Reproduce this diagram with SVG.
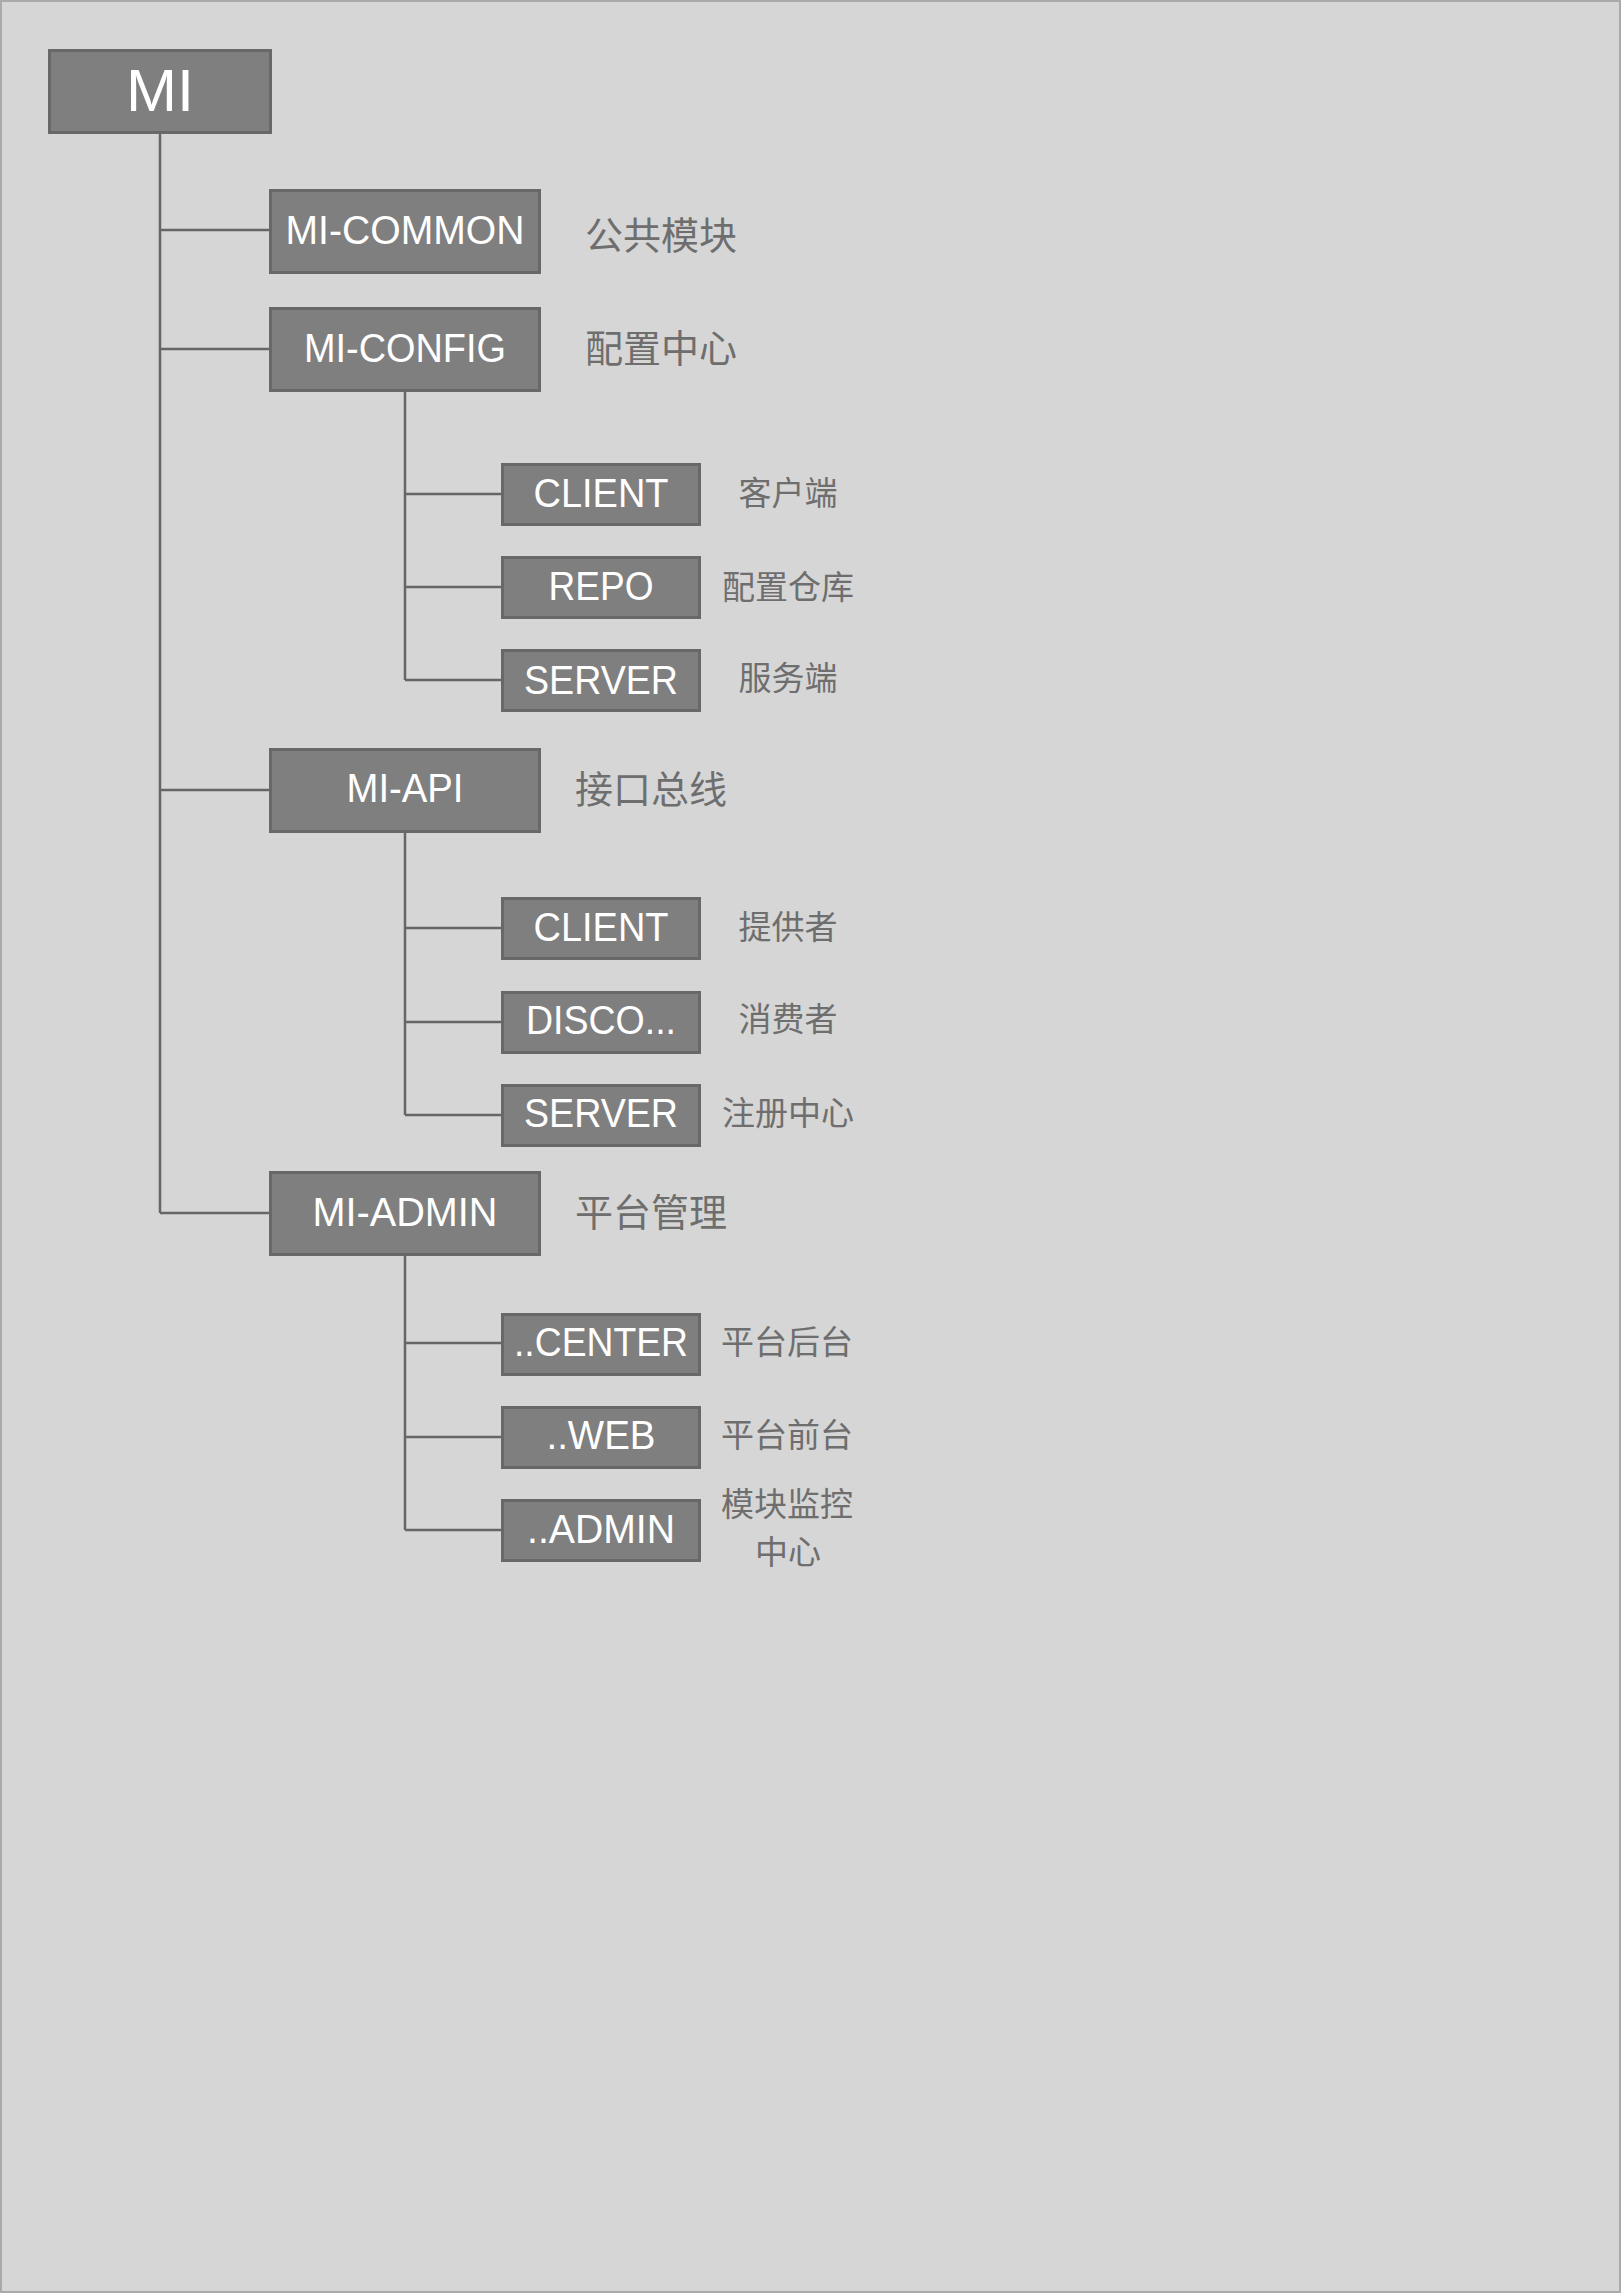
<svg xmlns="http://www.w3.org/2000/svg" width="1622" height="2294" viewBox="0 0 1622 2294">
<style>
.box{fill:#7f7f7f;stroke:#686868;stroke-width:3}
.t{font-family:"Liberation Sans",Arial,sans-serif;font-size:40px;fill:#ffffff;text-anchor:middle}
.l1{font-family:"Noto Sans CJK SC",sans-serif;font-size:38px;fill:#6e6e6e;text-anchor:middle}
.l2{font-family:"Noto Sans CJK SC",sans-serif;font-size:33px;fill:#6e6e6e;text-anchor:middle}
.c{fill:none;stroke:#666666;stroke-width:2.5}
</style>
<rect x="1" y="1" width="1619" height="2291" fill="#d6d6d6" stroke="#aaaaaa" stroke-width="2"/>
<g id="connectors">
<path class="c" d="M160 134V1213M160 230H269M160 349H269M160 790H269M160 1213H269"/>
<path class="c" d="M405 392V680M405 494H501M405 587H501M405 680H501"/>
<path class="c" d="M405 833V1115M405 928H501M405 1022H501M405 1115H501"/>
<path class="c" d="M405 1256V1530M405 1343H501M405 1437H501M405 1530H501"/>
</g>
<g id="n-mi"><rect class="box" x="49.5" y="50.5" width="221" height="82"/><text class="t" x="160" y="111" style="font-size:60px" textLength="68" lengthAdjust="spacingAndGlyphs">MI</text></g>
<g id="n-common"><rect class="box" x="270.5" y="190.5" width="269" height="82"/><text class="t" x="405" y="244" textLength="239" lengthAdjust="spacingAndGlyphs">MI-COMMON</text><text class="l1" x="661" y="249">公共模块</text></g>
<g id="n-config"><rect class="box" x="270.5" y="308.5" width="269" height="82"/><text class="t" x="405" y="362" textLength="202" lengthAdjust="spacingAndGlyphs">MI-CONFIG</text><text class="l1" x="661" y="362">配置中心</text></g>
<g id="n-config-client"><rect class="box" x="502.5" y="464.5" width="197" height="60"/><text class="t" x="601" y="507" textLength="135" lengthAdjust="spacingAndGlyphs">CLIENT</text><text class="l2" x="788" y="505">客户端</text></g>
<g id="n-config-repo"><rect class="box" x="502.5" y="557.5" width="197" height="60"/><text class="t" x="601" y="600" textLength="105" lengthAdjust="spacingAndGlyphs">REPO</text><text class="l2" x="788" y="599">配置仓库</text></g>
<g id="n-config-server"><rect class="box" x="502.5" y="650.5" width="197" height="60"/><text class="t" x="601" y="694" textLength="154" lengthAdjust="spacingAndGlyphs">SERVER</text><text class="l2" x="788" y="690">服务端</text></g>
<g id="n-api"><rect class="box" x="270.5" y="749.5" width="269" height="82"/><text class="t" x="405" y="802" textLength="117" lengthAdjust="spacingAndGlyphs">MI-API</text><text class="l1" x="651" y="803">接口总线</text></g>
<g id="n-api-client"><rect class="box" x="502.5" y="898.5" width="197" height="60"/><text class="t" x="601" y="941" textLength="135" lengthAdjust="spacingAndGlyphs">CLIENT</text><text class="l2" x="788" y="939">提供者</text></g>
<g id="n-api-disco"><rect class="box" x="502.5" y="992.5" width="197" height="60"/><text class="t" x="601" y="1034" textLength="150" lengthAdjust="spacingAndGlyphs">DISCO...</text><text class="l2" x="788" y="1031">消费者</text></g>
<g id="n-api-server"><rect class="box" x="502.5" y="1085.5" width="197" height="60"/><text class="t" x="601" y="1127" textLength="154" lengthAdjust="spacingAndGlyphs">SERVER</text><text class="l2" x="788" y="1125">注册中心</text></g>
<g id="n-admin"><rect class="box" x="270.5" y="1172.5" width="269" height="82"/><text class="t" x="405" y="1226" textLength="185" lengthAdjust="spacingAndGlyphs">MI-ADMIN</text><text class="l1" x="651" y="1226">平台管理</text></g>
<g id="n-admin-center"><rect class="box" x="502.5" y="1314.5" width="197" height="60"/><text class="t" x="601" y="1356" textLength="174" lengthAdjust="spacingAndGlyphs">..CENTER</text><text class="l2" x="787" y="1354">平台后台</text></g>
<g id="n-admin-web"><rect class="box" x="502.5" y="1407.5" width="197" height="60"/><text class="t" x="601" y="1449" textLength="109" lengthAdjust="spacingAndGlyphs">..WEB</text><text class="l2" x="787" y="1447">平台前台</text></g>
<g id="n-admin-admin"><rect class="box" x="502.5" y="1500.5" width="197" height="60"/><text class="t" x="601" y="1543" textLength="148" lengthAdjust="spacingAndGlyphs">..ADMIN</text><text class="l2"><tspan x="787" y="1516">模块监控</tspan><tspan x="788" y="1564">中心</tspan></text></g>
</svg>
